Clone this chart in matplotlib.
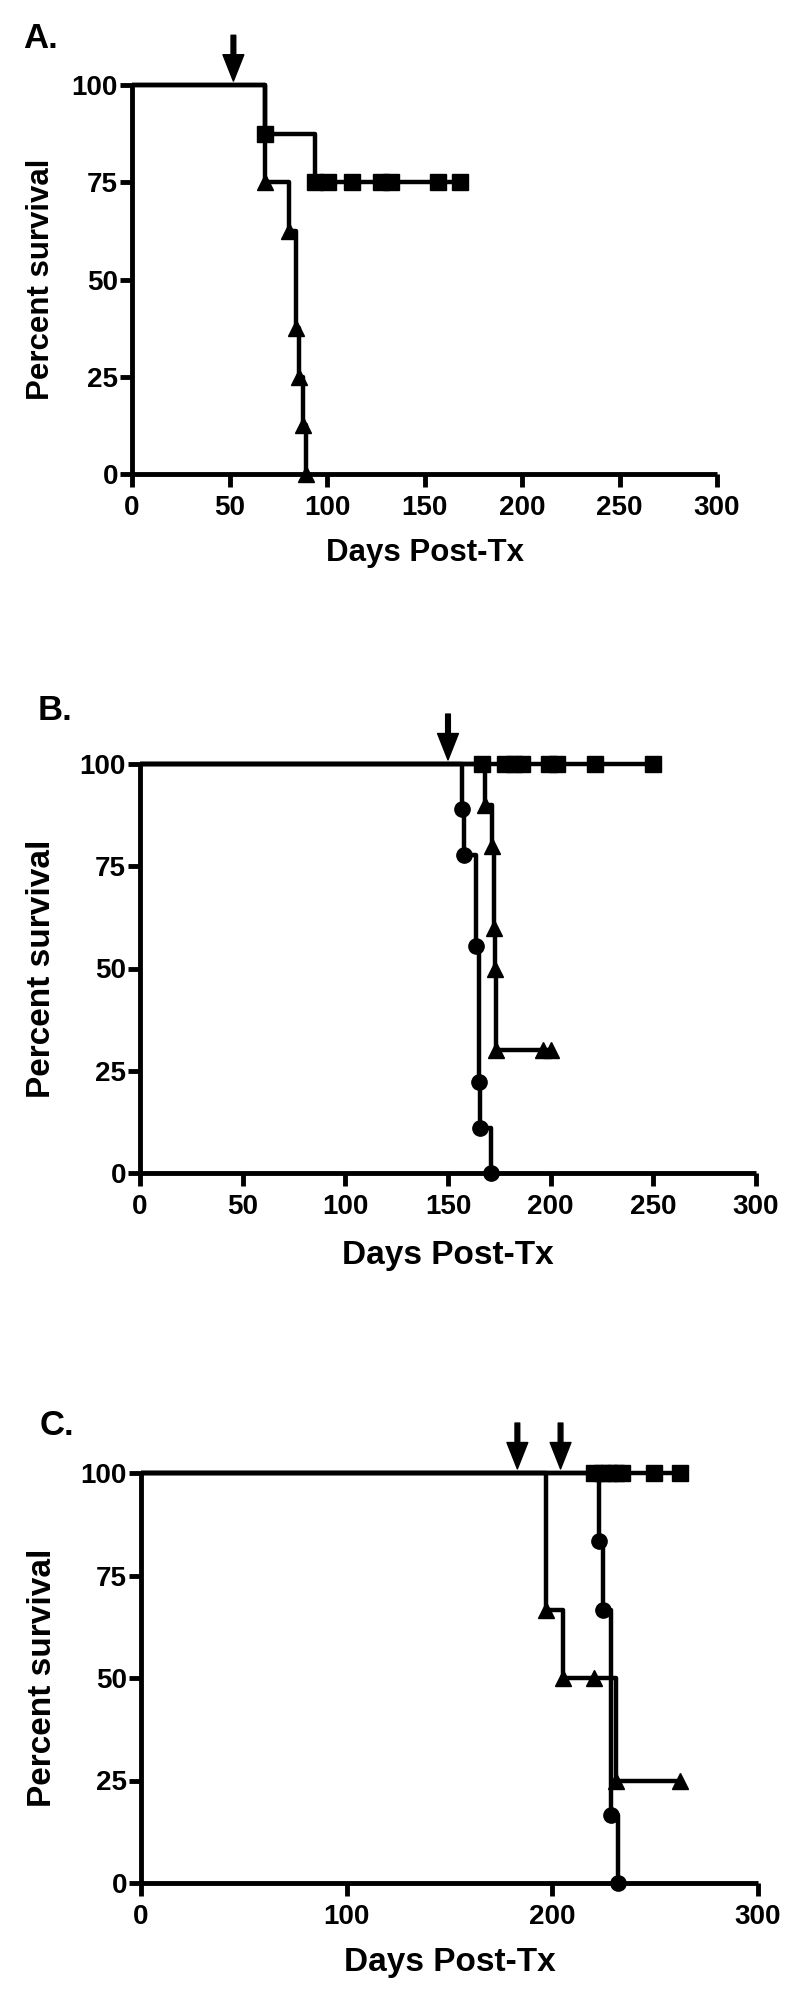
import numpy as np
import matplotlib
matplotlib.use("Agg")
import matplotlib.pyplot as plt
from matplotlib import font_manager

plt.rcParams['font.family'] = ['Liberation Sans', 'DejaVu Sans']
plt.rcParams['font.weight'] = 'bold'

# tick digits in the original are a condensed bold face
installed = {f.name for f in font_manager.fontManager.ttflist}
if 'Liberation Sans Narrow' in installed:
    TICK_FONT, TICK_SIZE = ['Liberation Sans Narrow', 'DejaVu Sans'], 21
else:
    TICK_FONT, TICK_SIZE = ['Liberation Sans', 'DejaVu Sans'], 20

# Panel A (days, percent survival after each event, censored days)
A_tri_t = [68, 80.5, 84, 85.5, 87.5, 89]
A_tri_s = [75, 62.5, 37.5, 25, 12.5, 0]
A_tri_c = []
A_sq_t = [68, 94]
A_sq_s = [87.5, 75]
A_sq_c = [100.5, 113, 127.5, 133, 157, 168]
A_arrows = [52]

# Panel B
B_cir_t = [157, 158, 163.5, 165, 165.5, 171]
B_cir_s = [88.9, 77.8, 55.6, 22.2, 11.1, 0]
B_cir_c = []
B_tri_t = [168, 171.5, 172.5, 173, 173.5]
B_tri_s = [90, 80, 60, 50, 30]
B_tri_c = [196.5, 200]
B_sq_t = []
B_sq_s = []
B_sq_c = [166.5, 178, 182, 186, 199, 203, 221.5, 250]
B_arrows = [150]

# Panel C
C_tri_t = [197, 205, 231]
C_tri_s = [66.7, 50, 25]
C_tri_c = [220.5, 262]
C_cir_t = [222.5, 224.5, 228.5, 232]
C_cir_s = [83.3, 66.7, 16.7, 0]
C_cir_c = []
C_sq_t = []
C_sq_s = []
C_sq_c = [220.5, 224, 227.5, 231, 234, 249.5, 262]
C_arrows = [183, 204]

x_ticks_AB = [0, 50, 100, 150, 200, 250, 300]
x_ticks_C = [0, 100, 200, 300]
y_ticks = [0, 25, 50, 75, 100]


def surv_at(t_ev, s_ev, t):
    s = 100.0
    for te, se in zip(t_ev, s_ev):
        if te <= t:
            s = se
    return s


def km(ax, t_ev, s_ev, cens, marker):
    end = max(list(t_ev) + list(cens))
    xs = [0] + list(t_ev) + [end]
    ys = [100] + list(s_ev) + [s_ev[-1] if s_ev else 100]
    ax.step(xs, ys, where='post', color='black', lw=3.2, clip_on=False,
            solid_capstyle='butt', zorder=3)
    mx = list(t_ev) + list(cens)
    my = list(s_ev) + [surv_at(t_ev, s_ev, c) for c in cens]
    ax.plot(mx, my, ls='none', marker=marker, ms=11, color='black',
            clip_on=False, zorder=4)


def style(ax, xt, xl_y, yl_x, lab_size):
    ax.set_xlim(0, 300)
    ax.set_ylim(0, 100)
    ax.set_xticks(xt)
    ax.set_yticks(y_ticks)
    for s in ['top', 'right']:
        ax.spines[s].set_visible(False)
    for s in ['left', 'bottom']:
        ax.spines[s].set_linewidth(3.5)
        ax.spines[s].set_capstyle('butt')
    ax.tick_params(axis='both', length=9, width=3.5)
    ax.tick_params(axis='x', pad=6)
    ax.tick_params(axis='y', pad=1)
    for lab in ax.get_xticklabels() + ax.get_yticklabels():
        lab.set_fontfamily(TICK_FONT)
        lab.set_fontsize(TICK_SIZE)
        lab.set_fontweight('bold')
    ax.set_xlabel('Days Post-Tx', fontsize=lab_size, fontweight='bold')
    ax.set_ylabel('Percent survival', fontsize=lab_size, fontweight='bold')
    ax.xaxis.set_label_coords(0.5, xl_y)
    ax.yaxis.set_label_coords(yl_x, 0.5)


def arrows(ax, days):
    for d in days:
        ax.annotate('', xy=(d, 101), xycoords='data',
                    xytext=(0, 33), textcoords='offset points',
                    arrowprops=dict(facecolor='black', edgecolor='black',
                                    width=3.4, headwidth=15, headlength=19,
                                    shrink=0), annotation_clip=False)


fig = plt.figure(figsize=(8, 20.04), dpi=100)
W, H = 800, 2004

axA = fig.add_axes([132 / W, 1 - 474 / H, 585 / W, 389 / H])
axB = fig.add_axes([140 / W, 1 - 1173 / H, 616 / W, 409 / H])
axC = fig.add_axes([141 / W, 1 - 1883 / H, 617 / W, 410 / H])

km(axA, A_sq_t, A_sq_s, A_sq_c, 's')
km(axA, A_tri_t, A_tri_s, A_tri_c, '^')
style(axA, x_ticks_AB, -0.165, -0.130, 22.5)
arrows(axA, A_arrows)

km(axB, B_sq_t, B_sq_s, B_sq_c, 's')
km(axB, B_tri_t, B_tri_s, B_tri_c, '^')
km(axB, B_cir_t, B_cir_s, B_cir_c, 'o')
style(axB, x_ticks_AB, -0.164, -0.135, 24)
arrows(axB, B_arrows)

km(axC, C_sq_t, C_sq_s, C_sq_c, 's')
km(axC, C_tri_t, C_tri_s, C_tri_c, '^')
km(axC, C_cir_t, C_cir_s, C_cir_c, 'o')
style(axC, x_ticks_C, -0.156, -0.135, 24)
arrows(axC, C_arrows)

fig.text(23 / W, 1 - 48 / H, 'A.', fontsize=25, fontweight='bold', va='baseline')
fig.text(38 / W, 1 - 720 / H, 'B.', fontsize=25, fontweight='bold', va='baseline')
fig.text(40 / W, 1 - 1435 / H, 'C.', fontsize=25, fontweight='bold', va='baseline')

fig.savefig('out.png', dpi=100)
